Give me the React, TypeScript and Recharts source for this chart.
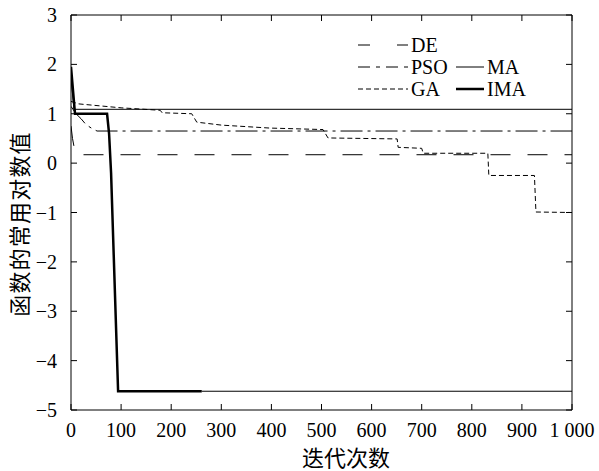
import React from 'react';
import { LineChart, Line, XAxis, YAxis, Legend, Label } from 'recharts';

// iterations (x) and log10 of the objective (y)
const deIter = [0, 3, 9, 1000];
const deVal = [0.75, 0.5, 0.17, 0.17];

const psoIter = [0, 10, 20, 30, 42, 52, 1000];
const psoVal = [1.15, 1.0, 0.9, 0.78, 0.7, 0.65, 0.65];

const gaIter = [0, 15, 100, 178, 182, 241, 251, 300, 397, 503, 513, 651, 653, 700, 703, 832, 834, 925, 928, 1000];
const gaVal = [1.25, 1.2, 1.12, 1.07, 1.02, 1.0, 0.83, 0.77, 0.71, 0.68, 0.51, 0.49, 0.32, 0.3, 0.2, 0.2, -0.25, -0.25, -0.99, -1.0];

const maIter = [0, 6, 1000];
const maVal = [1.7, 1.09, 1.09];

const imaIter = [0, 8, 72, 76, 80, 94, 261];
const imaVal = [1.95, 1.0, 1.0, 0.6, -0.2, -4.62, -4.62];

// after iteration 261 the IMA curve is drawn with a thin line
const imaTailIter = [261, 1000];
const imaTailVal = [-4.62, -4.62];

const xTicks = [0, 100, 200, 300, 400, 500, 600, 700, 800, 900, 1000];
const yTicks = [-5, -4, -3, -2, -1, 0, 1, 2, 3];

const xTitle = '迭代次数';
const yTitle = '函数的常用对数值';

const toPoints = (xs: number[], ys: number[]) => xs.map((x, i) => ({ x, y: ys[i] }));

const serif = '"Liberation Serif", "Times New Roman", serif';
const cjk = '"Noto Sans CJK SC", sans-serif';
const tickStyle = { fill: '#000', fontSize: 20, fontFamily: serif };

const fmtX = (v: number) => (v === 1000 ? '1 000' : String(v));
const fmtY = (v: number) => (v < 0 ? '\u2212' + Math.abs(v) : String(v));

function LegendBox() {
  const txt = { fontFamily: serif, fontSize: 20, fill: '#000' };
  return (
    <svg width={240} height={80} style={{ display: 'block' }}>
      <line x1={8} x2={58} y1={15} y2={15} stroke="#000" strokeDasharray="12 27" />
      <text x={61} y={15} dominantBaseline="central" {...txt}>DE</text>
      <line x1={8} x2={58} y1={37} y2={37} stroke="#000" strokeDasharray="12 6 4 6" />
      <text x={61} y={37} dominantBaseline="central" {...txt}>PSO</text>
      <line x1={8} x2={58} y1={59} y2={59} stroke="#000" strokeDasharray="5 3" />
      <text x={61} y={59} dominantBaseline="central" {...txt}>GA</text>
      <line x1={106} x2={134} y1={37} y2={37} stroke="#000" strokeWidth={1} />
      <text x={137} y={37} dominantBaseline="central" {...txt}>MA</text>
      <line x1={106} x2={134} y1={59} y2={59} stroke="#000" strokeWidth={2.5} />
      <text x={137} y={59} dominantBaseline="central" {...txt}>IMA</text>
    </svg>
  );
}

export default function App() {
  return (
    <div style={{ width: 599, height: 471 }}>
      <style>{'body{margin:0}'}</style>
      <LineChart width={599} height={471} margin={{ top: 0, right: 0, bottom: 0, left: 0 }}>
        <XAxis
          xAxisId="bottom"
          dataKey="x"
          type="number"
          domain={[0, 1000]}
          ticks={xTicks}
          tickFormatter={fmtX}
          allowDataOverflow
          height={61}
          tickSize={-6}
          tickMargin={19}
          tick={tickStyle}
          axisLine={{ stroke: '#000' }}
          tickLine={{ stroke: '#000' }}
        >
          <Label
            content={() => (
              <text x={346} y={456} textAnchor="middle" dominantBaseline="central" fontFamily={cjk} fontSize={22} fill="#000">
                {xTitle}
              </text>
            )}
          />
        </XAxis>
        <XAxis
          xAxisId="top"
          orientation="top"
          dataKey="x"
          type="number"
          domain={[0, 1000]}
          ticks={xTicks}
          tickFormatter={() => ''}
          allowDataOverflow
          height={15}
          tickSize={-6}
          axisLine={{ stroke: '#000' }}
          tickLine={{ stroke: '#000' }}
        />
        <YAxis
          yAxisId="left"
          type="number"
          domain={[-5, 3]}
          ticks={yTicks}
          tickFormatter={fmtY}
          allowDataOverflow
          width={71}
          tickSize={-6}
          tickMargin={20}
          tick={tickStyle}
          axisLine={{ stroke: '#000' }}
          tickLine={{ stroke: '#000' }}
        >
          <Label
            content={() => (
              <text
                x={18}
                y={224}
                transform="rotate(-90 18 224)"
                textAnchor="middle"
                dominantBaseline="central"
                fontFamily={cjk}
                fontSize={22}
                letterSpacing={1.2}
                fill="#000"
              >
                {yTitle}
              </text>
            )}
          />
        </YAxis>
        <YAxis
          yAxisId="right"
          orientation="right"
          type="number"
          domain={[-5, 3]}
          ticks={yTicks}
          tickFormatter={() => ''}
          allowDataOverflow
          width={27}
          tickSize={-6}
          axisLine={{ stroke: '#000' }}
          tickLine={{ stroke: '#000' }}
        />
        <Legend
          layout="vertical"
          align="center"
          verticalAlign="middle"
          wrapperStyle={{ top: 30, left: 350, width: 240, height: 80 }}
          content={() => <LegendBox />}
        />
        <Line
          xAxisId="bottom"
          yAxisId="left"
          data={toPoints(deIter, deVal)}
          dataKey="y"
          name="DE"
          type="linear"
          stroke="#000"
          strokeWidth={1}
          strokeDasharray="20 17"
          dot={false}
          isAnimationActive={false}
        />
        <Line
          xAxisId="bottom"
          yAxisId="left"
          data={toPoints(psoIter, psoVal)}
          dataKey="y"
          name="PSO"
          type="linear"
          stroke="#000"
          strokeWidth={1}
          strokeDasharray="22 5 3 5"
          dot={false}
          isAnimationActive={false}
        />
        <Line
          xAxisId="bottom"
          yAxisId="left"
          data={toPoints(gaIter, gaVal)}
          dataKey="y"
          name="GA"
          type="linear"
          stroke="#000"
          strokeWidth={1}
          strokeDasharray="5 3"
          dot={false}
          isAnimationActive={false}
        />
        <Line
          xAxisId="bottom"
          yAxisId="left"
          data={toPoints(maIter, maVal)}
          dataKey="y"
          name="MA"
          type="linear"
          stroke="#000"
          strokeWidth={1}
          dot={false}
          isAnimationActive={false}
        />
        <Line
          xAxisId="bottom"
          yAxisId="left"
          data={toPoints(imaTailIter, imaTailVal)}
          dataKey="y"
          name="IMA tail"
          type="linear"
          stroke="#000"
          strokeWidth={1}
          dot={false}
          isAnimationActive={false}
        />
        <Line
          xAxisId="bottom"
          yAxisId="left"
          data={toPoints(imaIter, imaVal)}
          dataKey="y"
          name="IMA"
          type="linear"
          stroke="#000"
          strokeWidth={2.5}
          dot={false}
          isAnimationActive={false}
        />
      </LineChart>
    </div>
  );
}
